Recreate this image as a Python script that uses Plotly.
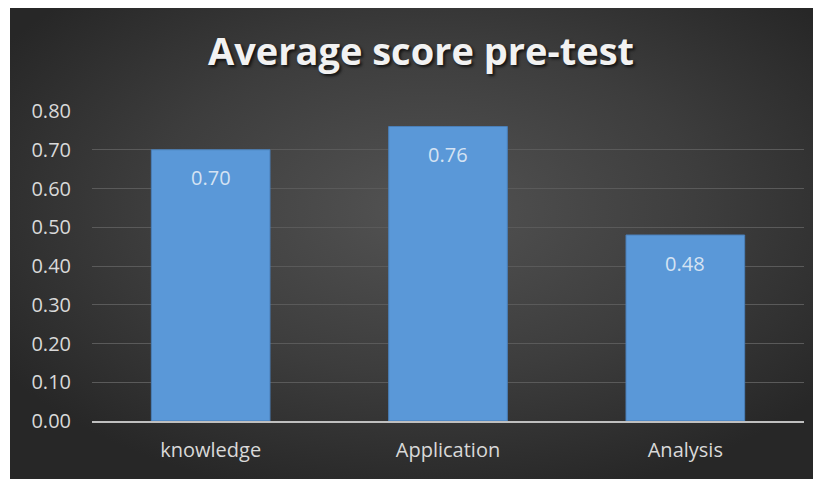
import base64
import plotly.graph_objects as go

categories = ["knowledge", "Application", "Analysis"]
scores = [0.70, 0.76, 0.48]
tick_vals = [0.0, 0.1, 0.2, 0.3, 0.4, 0.5, 0.6, 0.7, 0.8]
tick_text = [f"{v:.2f}" for v in tick_vals]
title_text = "Average score pre-test"

# page body adds an 8px offset; figure coords below account for it
W, H = 821, 479
L, R, T, B = 84, 25, 103, 66
pw, ph = W - L - R, H - T - B

svg = f'''<svg xmlns="http://www.w3.org/2000/svg" width="819" height="479" viewBox="0 0 819 479" preserveAspectRatio="none">
<defs><radialGradient id="g" cx="0.51" cy="0.42" r="0.62" gradientUnits="objectBoundingBox">
<stop offset="0" stop-color="#535353"/><stop offset="0.55" stop-color="#3d3d3d"/><stop offset="1" stop-color="#272727"/>
</radialGradient></defs><rect width="819" height="479" fill="url(#g)"/></svg>'''
bg_uri = "data:image/svg+xml;base64," + base64.b64encode(svg.encode()).decode()

fig = go.Figure()
fig.add_trace(go.Bar(
    x=categories, y=scores,
    marker=dict(color="#5a98d8", line=dict(color="#4a7fb8", width=1)),
    hoverinfo="skip",
))

for c, v in zip(categories, scores):
    fig.add_annotation(x=c, y=v, xref="x", yref="y", text=f"{v:.2f}",
                       showarrow=False, yanchor="middle", yshift=-28,
                       font=dict(family="Open Sans", size=20, color="#d5e3f3"))

fig.add_layout_image(dict(
    source=bg_uri, xref="paper", yref="paper",
    x=(2 - L) / pw, y=(H - B) / ph,
    sizex=(W - 2) / pw, sizey=H / ph,
    xanchor="left", yanchor="top", sizing="stretch", layer="below",
))

fig.update_layout(
    width=W, height=H,
    margin=dict(l=L, r=R, t=T, b=B),
    paper_bgcolor="white",
    plot_bgcolor="rgba(0,0,0,0)",
    bargap=0.5,
    showlegend=False,
    title=dict(text=title_text, x=413 / W, xanchor="center", xref="container",
               y=1 - 44 / H, yanchor="middle", yref="container",
               font=dict(family="Open Sans", size=38, color="#f2f2f2", weight="bold",
                         shadow="2px 2px 3px rgba(0,0,0,0.7)")),
    font=dict(family="Open Sans", color="#d9d9d9"),
)
fig.update_yaxes(range=[0, 0.8], tickvals=tick_vals, ticktext=tick_text,
                 showgrid=True, gridcolor="#5a5a5a", gridwidth=1,
                 zeroline=False, showline=False, ticks="",
                 ticklabelstandoff=20,
                 tickfont=dict(family="Open Sans", size=20, color="#d9d9d9"))
fig.update_xaxes(showline=True, linecolor="#bfbfbf", linewidth=2, ticks="",
                 ticklabelstandoff=10,
                 tickfont=dict(family="Open Sans", size=20, color="#d9d9d9"))

fig.write_html("out.html")
